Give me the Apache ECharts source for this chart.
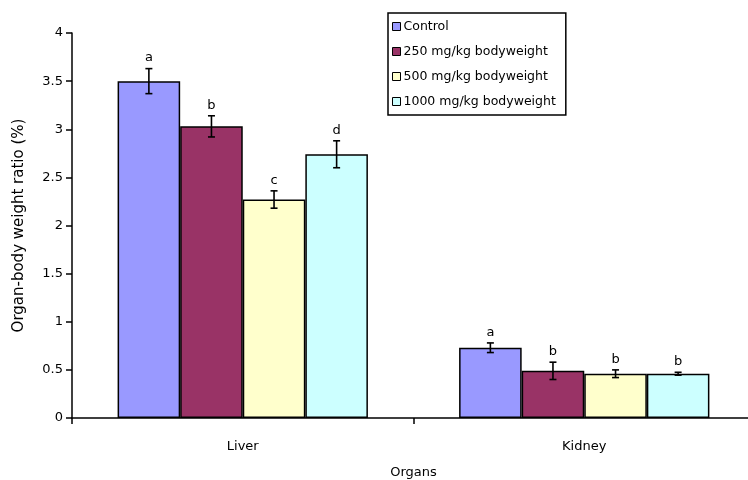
<!DOCTYPE html>
<html>
<head>
<meta charset="utf-8">
<script src="https://cdn.jsdelivr.net/npm/echarts@6/dist/echarts.min.js"></script>
<style>
  html, body { margin: 0; padding: 0; background: #ffffff; }
  #chart { width: 748px; height: 480px; }
</style>
</head>
<body>
<div id="chart"></div>
<script>
// Organ-to-body weight ratio by treatment group
const organs = ['Liver', 'Kidney'];
const groups = ['Control', '250 mg/kg bodyweight', '500 mg/kg bodyweight', '1000 mg/kg bodyweight'];

const control = [3.50, 0.73];
const dose250 = [3.03, 0.49];
const dose500 = [2.27, 0.46];
const dose1000 = [2.74, 0.46];

const controlErr = [0.13, 0.05];
const dose250Err = [0.11, 0.09];
const dose500Err = [0.09, 0.04];
const dose1000Err = [0.14, 0.015];

const controlSig = ['a', 'a'];
const dose250Sig = ['b', 'b'];
const dose500Sig = ['c', 'b'];
const dose1000Sig = ['d', 'b'];

const yTicks = [0, 0.5, 1, 1.5, 2, 2.5, 3, 3.5, 4];

const colors = ['#9999FF', '#993366', '#FFFFCC', '#CCFFFF'];
const values = [control, dose250, dose500, dose1000];
const errors = [controlErr, dose250Err, dose500Err, dose1000Err];
const sigs = [controlSig, dose250Sig, dose500Sig, dose1000Sig];

const CAT_GAP = 0.267;
const FONT = 'DejaVu Sans';

function errorBarSeries(k) {
  return {
    type: 'custom',
    z: 5,
    silent: true,
    data: organs.map((o, i) => [i, values[k][i], errors[k][i], sigs[k][i]]),
    renderItem: function (params, api) {
      const cat = api.value(0);
      const val = api.value(1);
      const err = api.value(2);
      const band = api.size([1, 0])[0];
      const barW = band * (1 - CAT_GAP) / groups.length;
      const cx = api.coord([cat, 0])[0] + (k - (groups.length - 1) / 2) * barW;
      const yTop = api.coord([cat, val + err])[1];
      const yBot = api.coord([cat, val - err])[1];
      const cap = 3.5;
      const st = { stroke: '#000', lineWidth: 1.6 };
      return {
        type: 'group',
        children: [
          { type: 'line', shape: { x1: cx, y1: yTop, x2: cx, y2: yBot }, style: st },
          { type: 'line', shape: { x1: cx - cap, y1: yTop, x2: cx + cap, y2: yTop }, style: st },
          { type: 'line', shape: { x1: cx - cap, y1: yBot, x2: cx + cap, y2: yBot }, style: st },
          {
            type: 'text',
            style: {
              text: api.value(3),
              x: cx, y: yTop - 4,
              align: 'center', verticalAlign: 'bottom',
              font: '13px "' + FONT + '"', fill: '#000'
            }
          }
        ]
      };
    }
  };
}

const barSeries = groups.map((g, k) => ({
  name: g,
  type: 'bar',
  data: values[k],
  barGap: '0%',
  barCategoryGap: (CAT_GAP * 100) + '%',
  itemStyle: { color: colors[k], borderColor: '#000', borderWidth: 1.5 },
  emphasis: { disabled: true }
}));

const chart = echarts.init(document.getElementById('chart'), null, { renderer: 'canvas' });
chart.setOption({
  backgroundColor: '#ffffff',
  animation: false,
  textStyle: { fontFamily: FONT, color: '#000' },
  grid: { left: 72, top: 33, width: 683, height: 385, outerBoundsMode: 'none', containLabel: false },
  legend: {
    data: groups,
    orient: 'vertical',
    left: 388,
    top: 13,
    itemWidth: 8,
    itemHeight: 8,
    itemGap: 12,
    icon: 'rect',
    padding: [7, 10, 7, 4],
    borderColor: '#000',
    borderWidth: 1.5,
    backgroundColor: '#fff',
    itemStyle: { borderColor: '#000', borderWidth: 1 },
    textStyle: { fontFamily: FONT, fontSize: 12.5, color: '#000', padding: [0, 0, 0, -2] }
  },
  xAxis: {
    type: 'category',
    data: organs,
    name: 'Organs',
    nameLocation: 'middle',
    nameGap: 48,
    nameTextStyle: { fontFamily: FONT, fontSize: 13, color: '#000' },
    axisLine: { lineStyle: { color: '#000', width: 1.5 } },
    axisTick: { show: true, length: 6, lineStyle: { color: '#000', width: 1.5 } },
    axisLabel: { margin: 22, fontFamily: FONT, fontSize: 13, color: '#000' }
  },
  yAxis: {
    type: 'value',
    min: yTicks[0],
    max: yTicks[yTicks.length - 1],
    interval: yTicks[1] - yTicks[0],
    name: 'Organ-body weight ratio (%)',
    nameLocation: 'middle',
    nameGap: 45,
    nameTextStyle: { fontFamily: FONT, fontSize: 15, color: '#000' },
    splitLine: { show: false },
    axisLine: { show: true, lineStyle: { color: '#000', width: 1.5 } },
    axisTick: { show: true, length: 6, lineStyle: { color: '#000', width: 1.5 } },
    axisLabel: {
      margin: 9, fontFamily: FONT, fontSize: 13, color: '#000',
      formatter: v => String(v)
    }
  },
  series: barSeries.concat(groups.map((g, k) => errorBarSeries(k)))
});
</script>
</body>
</html>
